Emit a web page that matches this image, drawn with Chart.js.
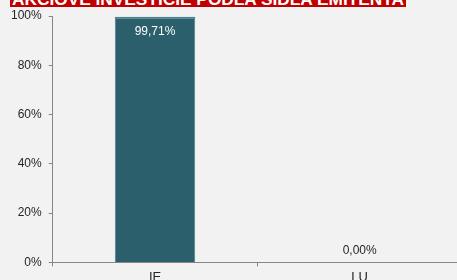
<!DOCTYPE html>
<html>
<head>
<meta charset="utf-8">
<script src="https://cdn.jsdelivr.net/npm/chart.js@4"></script>
<style>
  html, body { margin: 0; padding: 0; background: #f2f2f2; width: 457px; height: 280px; overflow: hidden; }
  #title {
    position: absolute; left: 10px; top: 0; width: 396px; height: 7px;
    background: #c00000; overflow: hidden;
  }
  #title span {
    position: absolute; left: 2px; top: -10px; white-space: nowrap;
    font: bold 17.3px "Liberation Sans", Arial, sans-serif; color: #fff; line-height: 19px;
  }
  #wrap { position: absolute; left: 0; top: 0; width: 462px; height: 288px; }
</style>
</head>
<body>
<div id="wrap"><canvas id="chart"></canvas></div>
<div id="title"><span>AKCIOVÉ INVESTÍCIE PODĽA SÍDLA EMITENTA</span></div>
<script>
// ── Data ─────────────────────────────────────────────
const categories = ['IE', 'LU'];
const shares     = [99.71, 0.00];   // % of equity investments
const yTicks     = [0, 20, 40, 60, 80, 100];

const fmtPct = (v) => v.toFixed(2).replace('.', ',') + '%';

// ── Value labels drawn above / inside the bars ───────
const valueLabels = {
    id: 'valueLabels',
    afterDatasetsDraw(chart) {
        const ctx  = chart.ctx;
        const meta = chart.getDatasetMeta(0);
        ctx.save();
        ctx.font = '12px "Liberation Sans", Arial, sans-serif';
        ctx.textAlign = 'center';
        ctx.textBaseline = 'middle';
        meta.data.forEach((bar, i) => {
            const v = shares[i];
            if (v > 50) {
                ctx.fillStyle = '#ffffff';
                ctx.fillText(fmtPct(v), bar.x, bar.y + 15);
            } else {
                ctx.fillStyle = '#262626';
                ctx.fillText(fmtPct(v), bar.x, bar.y - 12);
            }
        });
        ctx.restore();
    }
};

new Chart(document.getElementById('chart'), {
    type: 'bar',
    data: {
        labels: categories,
        datasets: [{
            data: shares,
            backgroundColor: '#2a5f6b',
            borderColor: '#4a8190',
            borderWidth: { top: 2, left: 1, right: 1, bottom: 0 },
            categoryPercentage: 1,
            barPercentage: 0.393
        }]
    },
    options: {
        responsive: true,
        maintainAspectRatio: false,
        animation: false,
        layout: { padding: { left: 4, top: 16, right: 0, bottom: 0 } },
        plugins: {
            legend:  { display: false },
            tooltip: { enabled: false }
        },
        scales: {
            x: {
                grid: { display: true, drawOnChartArea: false, offset: true,
                        color: '#868686', tickLength: 4 },
                border: { color: '#868686', width: 1 },
                ticks: { color: '#262626', padding: 3,
                         font: { family: '"Liberation Sans", Arial, sans-serif', size: 13 } }
            },
            y: {
                min: 0, max: 100,
                afterBuildTicks: (axis) => { axis.ticks = yTicks.map(v => ({ value: v })); },
                grid: { display: true, drawOnChartArea: false, color: '#868686', tickLength: 4 },
                border: { color: '#868686', width: 1 },
                ticks: { color: '#262626', padding: 7,
                         font: { family: '"Liberation Sans", Arial, sans-serif', size: 12 },
                         callback: (v) => v + '%' }
            }
        }
    },
    plugins: [valueLabels]
});
</script>
</body>
</html>
